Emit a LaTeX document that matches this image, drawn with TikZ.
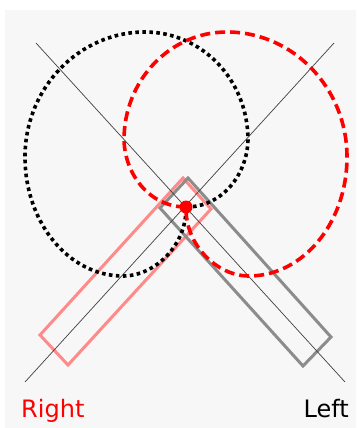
\documentclass[tikz,border=0pt]{standalone}
\usepackage{fontspec}
\usepackage{tikz}
\newfontfamily\labelfont{DejaVu Sans}
\definecolor{pinkbar}{HTML}{FF8A8A}
\definecolor{graybar}{HTML}{8C8C8C}
\tikzset{
  bar/.style={line width=3pt, line join=miter},
  axisline/.style={draw=black!75, line width=0.7pt},
  dotloop/.style={draw=black, line width=3.6pt, dash pattern=on 3.6pt off 3.4pt},
  dashloop/.style={draw=red, line width=3.6pt, dash pattern=on 10pt off 5pt},
  sidelabel/.style={font=\labelfont\fontsize{24}{28}\selectfont, inner sep=0pt}
}
% one loop, starting and ending at the pivot
\newcommand{\looppath}{(186,207)
  .. controls (222,207) and (247,175) .. (248,140)
  .. controls (248,80) and (202,32) .. (145,32)
  .. controls (79,32) and (25,88) .. (25,157)
  .. controls (25,223) and (69,276) .. (123,276)
  .. controls (155,276) and (187,245) .. (186,207)}

\begin{document}
\begin{tikzpicture}[x=1pt,y=-1pt]
\useasboundingbox (0,0) rectangle (356,428);
\path[fill=black!3] (5,10) rectangle (356,428);
% objects at depth 100:
\path[bar, draw=pinkbar] (40,335) -- (68,365) -- (211,209) -- (183,178) -- cycle;
\path[bar, draw=graybar] (188,178) -- (331,337) -- (303,366) -- (160,208) -- cycle;
% objects at depth 50:
\coordinate (ltop) at (36,43);
\coordinate (lbot) at (345,382);
\coordinate (rtop) at (334,43);
\coordinate (rbot) at (25,382);
\path[axisline] (ltop) -- (lbot);
\path[axisline] (rtop) -- (rbot);
% objects at depth 20:
\path[dotloop] \looppath;
\begin{scope}[xshift=372pt, xscale=-1]
\path[dashloop] \looppath;
\end{scope}
\node[circle, fill=red, inner sep=0pt, minimum size=13pt] (pivot) at (186,207) {};
% labels:
\node[sidelabel, text=red, anchor=base west] (right) at (21,417) {Right};
\node[sidelabel, text=black, anchor=base east] (left) at (349,417) {Left};
\end{tikzpicture}
\end{document}
